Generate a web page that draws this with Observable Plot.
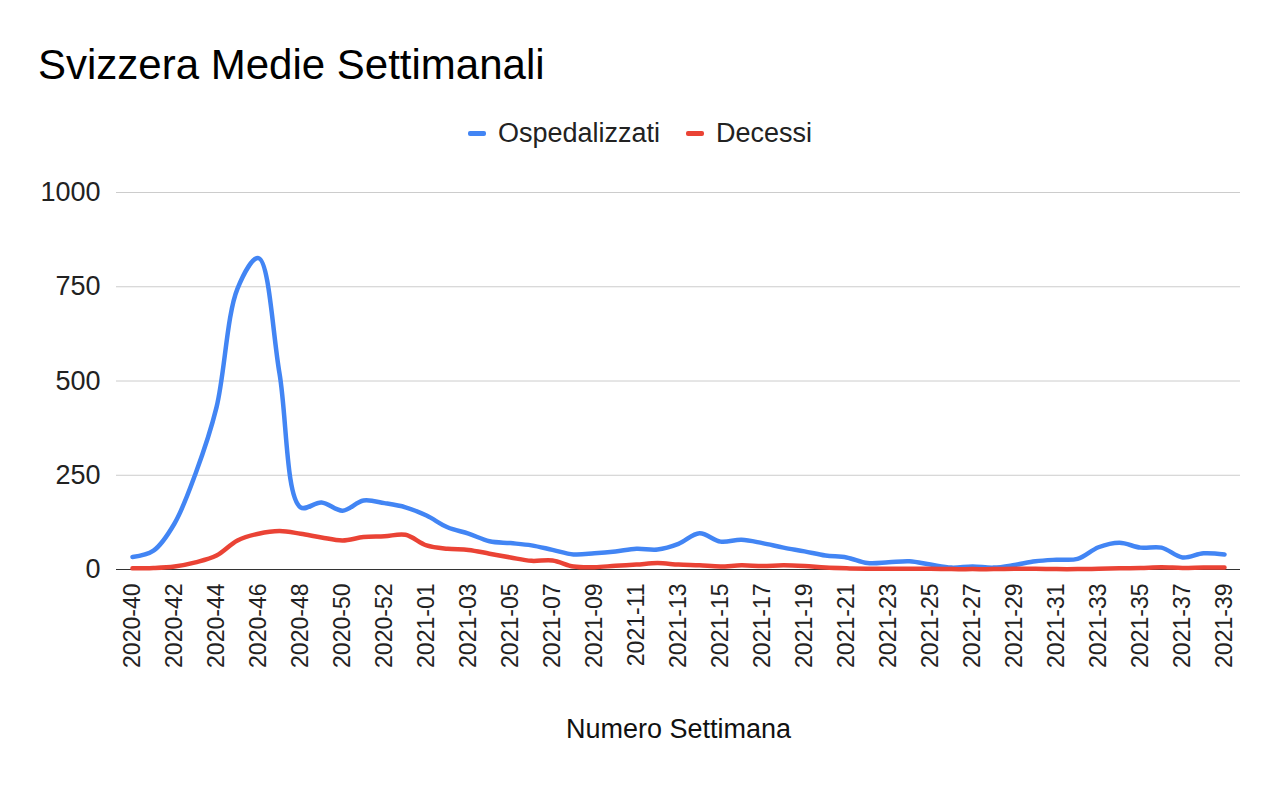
<!DOCTYPE html>
<html>
<head>
<meta charset="utf-8">
<script src="https://cdn.jsdelivr.net/npm/d3@7"></script>
<script src="https://cdn.jsdelivr.net/npm/@observablehq/plot@0.6"></script>
<style>
  html, body { margin: 0; padding: 0; background: #fff; }
  body { width: 1280px; height: 791px; overflow: hidden; font-family: "Liberation Sans", Arial, sans-serif; }
  #title { box-sizing: border-box; height: 100px; padding: 44px 0 0 38px; font-size: 42px; line-height: 42px; color: #000; }
  #legend { box-sizing: border-box; height: 60px; padding-top: 20px; display: flex; justify-content: center; align-items: flex-start; font-size: 27px; line-height: 27px; color: #222; }
  .sw { display: inline-block; width: 18px; height: 5px; border-radius: 2px; margin-right: 12px; }
  .item { display: flex; align-items: center; margin: 0 13px; }
  svg { display: block; }
</style>
</head>
<body>
<div id="title">Svizzera Medie Settimanali</div>
<div id="legend"></div>
<div id="chart"></div>
<script>
const weeks = [
  "2020-40","2020-41","2020-42","2020-43","2020-44","2020-45","2020-46","2020-47","2020-48","2020-49",
  "2020-50","2020-51","2020-52","2020-53","2021-01","2021-02","2021-03","2021-04","2021-05","2021-06",
  "2021-07","2021-08","2021-09","2021-10","2021-11","2021-12","2021-13","2021-14","2021-15","2021-16",
  "2021-17","2021-18","2021-19","2021-20","2021-21","2021-22","2021-23","2021-24","2021-25","2021-26",
  "2021-27","2021-28","2021-29","2021-30","2021-31","2021-32","2021-33","2021-34","2021-35","2021-36",
  "2021-37","2021-38","2021-39"
];
const ospedalizzati = [
  33, 50, 122, 254, 430, 745, 826, 520, 165, 178,
  156, 183, 176, 165, 143, 112, 95, 75, 70, 64,
  52, 40, 43, 48, 55, 53, 68, 96, 74, 79,
  70, 58, 48, 37, 32, 17, 19, 22, 13, 5,
  8, 5, 12, 22, 26, 28, 59, 71, 58, 58,
  32, 43, 40
];
const decessi = [
  3, 4, 8, 19, 37, 77, 95, 102, 95, 85,
  77, 86, 88, 92, 64, 55, 52, 42, 32, 23,
  24, 8, 6, 10, 13, 17, 13, 11, 8, 11,
  9, 11, 9, 5, 3, 2, 2, 2, 2, 1,
  1, 1, 2, 2, 1, 1, 2, 3, 4, 6,
  4, 5, 5
];
const seriesNames = ["Ospedalizzati", "Decessi"];
const seriesColors = ["#4285F4", "#EA4335"];
const yTicks = [0, 250, 500, 750, 1000];
// tick labels shown: every other week, as in the reference
const shownTicks = ["2020-40","2020-42","2020-44","2020-46","2020-48","2020-50","2020-52",
  "2021-01","2021-03","2021-05","2021-07","2021-09","2021-11","2021-13","2021-15","2021-17",
  "2021-19","2021-21","2021-23","2021-25","2021-27","2021-29","2021-31","2021-33","2021-35",
  "2021-37","2021-39"];

const data = [];
weeks.forEach((w, i) => {
  data.push({week: w, value: ospedalizzati[i], series: seriesNames[0]});
  data.push({week: w, value: decessi[i], series: seriesNames[1]});
});

// legend
const legend = document.getElementById("legend");
seriesNames.forEach((n, i) => {
  const it = document.createElement("div");
  it.className = "item";
  const sw = document.createElement("span");
  sw.className = "sw";
  sw.style.background = seriesColors[i];
  const t = document.createElement("span");
  t.textContent = n;
  it.appendChild(sw); it.appendChild(t);
  legend.appendChild(it);
});

const chart = Plot.plot({
  width: 1280,
  height: 631,
  marginTop: 32,
  marginBottom: 222,
  marginLeft: 116,
  marginRight: 40,
  style: {fontFamily: "'Liberation Sans', Arial, sans-serif", background: "#fff", color: "#222"},
  x: {type: "point", domain: weeks, padding: 0, insetLeft: 11, insetRight: 12, label: null},
  y: {domain: [0, 1000], label: null},
  color: {domain: seriesNames, range: seriesColors},
  marks: [
    Plot.ruleY(yTicks.filter(d => d > 0), {stroke: "#cccccc", strokeWidth: 1}),
    Plot.axisY({ticks: yTicks, tickSize: 0, tickPadding: 16, fontSize: 27, label: null, tickFormat: d => String(d)}),
    Plot.axisX({ticks: shownTicks, tickSize: 0, tickPadding: 14, tickRotate: -90, fontSize: 23, label: null}),
    Plot.ruleY([0], {stroke: "#333", strokeWidth: 1.2}),
    Plot.line(data, {x: "week", y: "value", stroke: "series", z: "series", strokeWidth: 4.5, curve: "catmull-rom"}),
    Plot.text(["Numero Settimana"], {frameAnchor: "bottom", dy: 168, fontSize: 27, fill: "#111", text: d => d})
  ]
});
document.getElementById("chart").appendChild(chart);
</script>
</body>
</html>
